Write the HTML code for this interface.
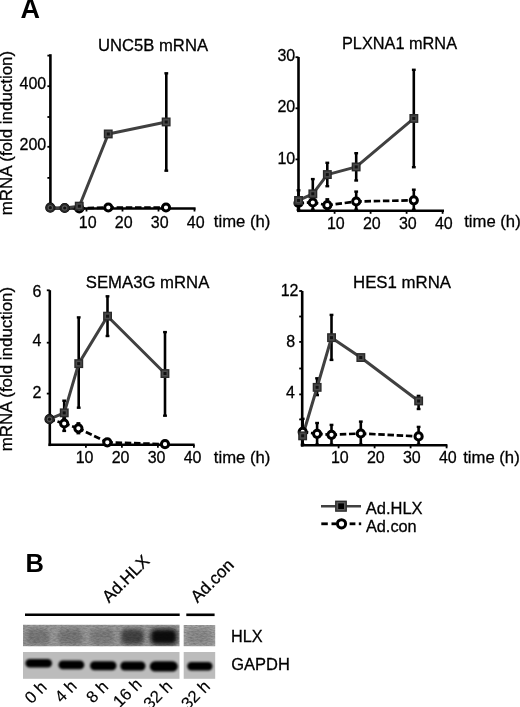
<!DOCTYPE html>
<html><head><meta charset="utf-8"><style>
html,body{margin:0;padding:0;background:#fff;}
svg{display:block;}
text{font-family:"Liberation Sans",sans-serif;fill:#000;stroke:#000;stroke-width:0.28px;}
svg{will-change:transform;}
</style></head><body>
<svg width="520" height="707" viewBox="0 0 520 707">
<rect width="520" height="707" fill="#fff"/>
<text x="20.4" y="17.9" font-size="27" font-weight="bold" style="stroke-width:0">A</text>
<text transform="translate(12.1,215.2) rotate(-90)" font-size="16.5" textLength="164.3" lengthAdjust="spacingAndGlyphs">mRNA (fold induction)</text>
<text transform="translate(12.1,451.2) rotate(-90)" font-size="16.5" textLength="164.3" lengthAdjust="spacingAndGlyphs">mRNA (fold induction)</text>
<line x1="50.4" y1="54.2" x2="50.4" y2="209.8" stroke="#000" stroke-width="2.6"/>
<line x1="49.1" y1="208.5" x2="195.6" y2="208.5" stroke="#000" stroke-width="2.6"/>
<line x1="47.4" y1="55.6" x2="50.4" y2="55.6" stroke="#000" stroke-width="1.8"/>
<line x1="47.4" y1="86.2" x2="50.4" y2="86.2" stroke="#000" stroke-width="1.8"/>
<line x1="47.4" y1="117" x2="50.4" y2="117" stroke="#000" stroke-width="1.8"/>
<line x1="47.4" y1="146.8" x2="50.4" y2="146.8" stroke="#000" stroke-width="1.8"/>
<line x1="47.4" y1="177.9" x2="50.4" y2="177.9" stroke="#000" stroke-width="1.8"/>
<line x1="86.5" y1="208.5" x2="86.5" y2="211.5" stroke="#000" stroke-width="1.8"/>
<line x1="122.5" y1="208.5" x2="122.5" y2="211.5" stroke="#000" stroke-width="1.8"/>
<line x1="158.5" y1="208.5" x2="158.5" y2="211.5" stroke="#000" stroke-width="1.8"/>
<line x1="194.5" y1="208.5" x2="194.5" y2="211.5" stroke="#000" stroke-width="1.8"/>
<text x="46.2" y="88.9" font-size="16" text-anchor="end">400</text>
<text x="46.2" y="150.3" font-size="16" text-anchor="end">200</text>
<text x="87.7" y="227.8" font-size="16" text-anchor="middle">10</text>
<text x="123.7" y="227.8" font-size="16" text-anchor="middle">20</text>
<text x="159.7" y="227.8" font-size="16" text-anchor="middle">30</text>
<text x="195.7" y="227.8" font-size="16" text-anchor="middle">40</text>
<text x="213.8" y="227.2" font-size="16" text-anchor="start" textLength="56.5" lengthAdjust="spacingAndGlyphs">time (h)</text>
<text x="98.0" y="50.7" font-size="16" text-anchor="start" textLength="110" lengthAdjust="spacingAndGlyphs">UNC5B mRNA</text>
<line x1="166.3" y1="73" x2="166.3" y2="171" stroke="#000" stroke-width="2.6"/><line x1="164.4" y1="73.3" x2="168.20000000000002" y2="73.3" stroke="#000" stroke-width="2.4"/><line x1="164.4" y1="170.7" x2="168.20000000000002" y2="170.7" stroke="#000" stroke-width="2.4"/>
<line x1="50.3" y1="207.7" x2="64.7" y2="208" stroke="#000" stroke-width="2.7" stroke-dasharray="6.5,2.7" stroke-dashoffset="0.9"/>
<line x1="64.7" y1="208" x2="79.3" y2="208.4" stroke="#000" stroke-width="2.7" stroke-dasharray="6.5,2.7" stroke-dashoffset="0.9"/>
<line x1="79.3" y1="208.4" x2="108.3" y2="207.5" stroke="#000" stroke-width="2.7" stroke-dasharray="6.5,2.7" stroke-dashoffset="0.9"/>
<line x1="108.3" y1="207.5" x2="166" y2="207.5" stroke="#000" stroke-width="2.7" stroke-dasharray="6.5,2.7" stroke-dashoffset="0.9"/>
<polyline points="50.3,207.7 64.7,208 79.3,206.2 108.3,134 166.2,122" fill="none" stroke="#404040" stroke-width="3.0" stroke-linejoin="round"/>
<circle cx="50.3" cy="207.7" r="3.6" fill="#fff" stroke="#000" stroke-width="3"/>
<circle cx="64.7" cy="208" r="3.6" fill="#fff" stroke="#000" stroke-width="3"/>
<circle cx="79.3" cy="208.4" r="3.6" fill="#fff" stroke="#000" stroke-width="3"/>
<circle cx="108.3" cy="207.5" r="3.6" fill="#fff" stroke="#000" stroke-width="3"/>
<circle cx="166" cy="207.5" r="3.6" fill="#fff" stroke="#000" stroke-width="3"/>
<circle cx="50.3" cy="207.7" r="3.7" fill="#555" stroke="#262626" stroke-width="1.9"/><circle cx="50.3" cy="207.7" r="1.6" fill="#111"/>
<circle cx="64.7" cy="208" r="3.7" fill="#555" stroke="#262626" stroke-width="1.9"/><circle cx="64.7" cy="208" r="1.6" fill="#111"/>
<rect x="75.5" y="202.4" width="7.5" height="7.5" fill="#4a4a4a" stroke="#2a2a2a" stroke-width="1.4"/><rect x="77.8" y="204.7" width="3" height="3" fill="#111"/>
<rect x="104.5" y="130.2" width="7.5" height="7.5" fill="#4a4a4a" stroke="#2a2a2a" stroke-width="1.4"/><rect x="106.8" y="132.5" width="3" height="3" fill="#111"/>
<rect x="162.4" y="118.2" width="7.5" height="7.5" fill="#4a4a4a" stroke="#2a2a2a" stroke-width="1.4"/><rect x="164.7" y="120.5" width="3" height="3" fill="#111"/>
<line x1="298.5" y1="57" x2="298.5" y2="212.10000000000002" stroke="#000" stroke-width="2.6"/>
<line x1="297.2" y1="210.8" x2="444" y2="210.8" stroke="#000" stroke-width="2.6"/>
<line x1="295.5" y1="57.2" x2="298.5" y2="57.2" stroke="#000" stroke-width="1.8"/>
<line x1="295.5" y1="108.3" x2="298.5" y2="108.3" stroke="#000" stroke-width="1.8"/>
<line x1="295.5" y1="159.4" x2="298.5" y2="159.4" stroke="#000" stroke-width="1.8"/>
<line x1="334.6" y1="210.8" x2="334.6" y2="213.8" stroke="#000" stroke-width="1.8"/>
<line x1="370.6" y1="210.8" x2="370.6" y2="213.8" stroke="#000" stroke-width="1.8"/>
<line x1="406.6" y1="210.8" x2="406.6" y2="213.8" stroke="#000" stroke-width="1.8"/>
<line x1="442.6" y1="210.8" x2="442.6" y2="213.8" stroke="#000" stroke-width="1.8"/>
<text x="295.2" y="60.8" font-size="16" text-anchor="end">30</text>
<text x="295.2" y="112.2" font-size="16" text-anchor="end">20</text>
<text x="295.2" y="163.5" font-size="16" text-anchor="end">10</text>
<text x="335.8" y="228.5" font-size="16" text-anchor="middle">10</text>
<text x="371.8" y="228.5" font-size="16" text-anchor="middle">20</text>
<text x="407.8" y="228.5" font-size="16" text-anchor="middle">30</text>
<text x="443.8" y="228.5" font-size="16" text-anchor="middle">40</text>
<text x="464.2" y="227.4" font-size="16" text-anchor="start" textLength="56.5" lengthAdjust="spacingAndGlyphs">time (h)</text>
<text x="342" y="48.9" font-size="16" text-anchor="start" textLength="115" lengthAdjust="spacingAndGlyphs">PLXNA1 mRNA</text>
<line x1="312.8" y1="197" x2="312.8" y2="210" stroke="#000" stroke-width="2.6"/><line x1="310.90000000000003" y1="197.3" x2="314.7" y2="197.3" stroke="#000" stroke-width="2.4"/><line x1="310.90000000000003" y1="209.7" x2="314.7" y2="209.7" stroke="#000" stroke-width="2.4"/>
<line x1="327.3" y1="199" x2="327.3" y2="210" stroke="#000" stroke-width="2.6"/><line x1="325.40000000000003" y1="199.3" x2="329.2" y2="199.3" stroke="#000" stroke-width="2.4"/><line x1="325.40000000000003" y1="209.7" x2="329.2" y2="209.7" stroke="#000" stroke-width="2.4"/>
<line x1="356.2" y1="191.3" x2="356.2" y2="210" stroke="#000" stroke-width="2.6"/><line x1="354.3" y1="191.60000000000002" x2="358.09999999999997" y2="191.60000000000002" stroke="#000" stroke-width="2.4"/><line x1="354.3" y1="209.7" x2="358.09999999999997" y2="209.7" stroke="#000" stroke-width="2.4"/>
<line x1="413.8" y1="189.4" x2="413.8" y2="210" stroke="#000" stroke-width="2.6"/><line x1="411.90000000000003" y1="189.70000000000002" x2="415.7" y2="189.70000000000002" stroke="#000" stroke-width="2.4"/><line x1="411.90000000000003" y1="209.7" x2="415.7" y2="209.7" stroke="#000" stroke-width="2.4"/>
<line x1="298.5" y1="190" x2="298.5" y2="210" stroke="#000" stroke-width="2.6"/><line x1="296.6" y1="190.3" x2="300.4" y2="190.3" stroke="#000" stroke-width="2.4"/><line x1="296.6" y1="209.7" x2="300.4" y2="209.7" stroke="#000" stroke-width="2.4"/>
<line x1="312.8" y1="178.8" x2="312.8" y2="205" stroke="#000" stroke-width="2.6"/><line x1="310.90000000000003" y1="179.10000000000002" x2="314.7" y2="179.10000000000002" stroke="#000" stroke-width="2.4"/><line x1="310.90000000000003" y1="204.7" x2="314.7" y2="204.7" stroke="#000" stroke-width="2.4"/>
<line x1="327.3" y1="162.5" x2="327.3" y2="186.5" stroke="#000" stroke-width="2.6"/><line x1="325.40000000000003" y1="162.8" x2="329.2" y2="162.8" stroke="#000" stroke-width="2.4"/><line x1="325.40000000000003" y1="186.2" x2="329.2" y2="186.2" stroke="#000" stroke-width="2.4"/>
<line x1="356.2" y1="152.9" x2="356.2" y2="180.8" stroke="#000" stroke-width="2.6"/><line x1="354.3" y1="153.20000000000002" x2="358.09999999999997" y2="153.20000000000002" stroke="#000" stroke-width="2.4"/><line x1="354.3" y1="180.5" x2="358.09999999999997" y2="180.5" stroke="#000" stroke-width="2.4"/>
<line x1="413.8" y1="69.5" x2="413.8" y2="167.5" stroke="#000" stroke-width="2.6"/><line x1="411.90000000000003" y1="69.8" x2="415.7" y2="69.8" stroke="#000" stroke-width="2.4"/><line x1="411.90000000000003" y1="167.2" x2="415.7" y2="167.2" stroke="#000" stroke-width="2.4"/>
<line x1="298.5" y1="203" x2="312.8" y2="202.5" stroke="#000" stroke-width="2.7" stroke-dasharray="6.5,2.7" stroke-dashoffset="0.9"/>
<line x1="312.8" y1="202.5" x2="327.3" y2="205.2" stroke="#000" stroke-width="2.7" stroke-dasharray="6.5,2.7" stroke-dashoffset="0.9"/>
<line x1="327.3" y1="205.2" x2="356.2" y2="201.5" stroke="#000" stroke-width="2.7" stroke-dasharray="6.5,2.7" stroke-dashoffset="0.9"/>
<line x1="356.2" y1="201.5" x2="413.8" y2="200.3" stroke="#000" stroke-width="2.7" stroke-dasharray="6.5,2.7" stroke-dashoffset="0.9"/>
<polyline points="298.5,200.4 312.8,193.8 327.3,174.6 356.2,166.9 413.8,118.4" fill="none" stroke="#404040" stroke-width="3.0" stroke-linejoin="round"/>
<circle cx="298.5" cy="203" r="3.6" fill="#fff" stroke="#000" stroke-width="3"/>
<circle cx="312.8" cy="202.5" r="3.6" fill="#fff" stroke="#000" stroke-width="3"/>
<circle cx="327.3" cy="205.2" r="3.6" fill="#fff" stroke="#000" stroke-width="3"/>
<circle cx="356.2" cy="201.5" r="3.6" fill="#fff" stroke="#000" stroke-width="3"/>
<circle cx="413.8" cy="200.3" r="3.6" fill="#fff" stroke="#000" stroke-width="3"/>
<rect x="294.8" y="196.7" width="7.5" height="7.5" fill="#4a4a4a" stroke="#2a2a2a" stroke-width="1.4"/><rect x="297.0" y="198.9" width="3" height="3" fill="#111"/>
<rect x="309.1" y="190.1" width="7.5" height="7.5" fill="#4a4a4a" stroke="#2a2a2a" stroke-width="1.4"/><rect x="311.3" y="192.3" width="3" height="3" fill="#111"/>
<rect x="323.6" y="170.8" width="7.5" height="7.5" fill="#4a4a4a" stroke="#2a2a2a" stroke-width="1.4"/><rect x="325.8" y="173.1" width="3" height="3" fill="#111"/>
<rect x="352.4" y="163.2" width="7.5" height="7.5" fill="#4a4a4a" stroke="#2a2a2a" stroke-width="1.4"/><rect x="354.7" y="165.4" width="3" height="3" fill="#111"/>
<rect x="410.1" y="114.7" width="7.5" height="7.5" fill="#4a4a4a" stroke="#2a2a2a" stroke-width="1.4"/><rect x="412.3" y="116.9" width="3" height="3" fill="#111"/>
<line x1="49.8" y1="290.2" x2="49.8" y2="446.1" stroke="#000" stroke-width="2.6"/>
<line x1="48.5" y1="444.8" x2="194.6" y2="444.8" stroke="#000" stroke-width="2.6"/>
<line x1="46.8" y1="290.3" x2="49.8" y2="290.3" stroke="#000" stroke-width="1.8"/>
<line x1="46.8" y1="342.7" x2="49.8" y2="342.7" stroke="#000" stroke-width="1.8"/>
<line x1="46.8" y1="393.6" x2="49.8" y2="393.6" stroke="#000" stroke-width="1.8"/>
<line x1="85.9" y1="444.8" x2="85.9" y2="447.8" stroke="#000" stroke-width="1.8"/>
<line x1="121.9" y1="444.8" x2="121.9" y2="447.8" stroke="#000" stroke-width="1.8"/>
<line x1="157.9" y1="444.8" x2="157.9" y2="447.8" stroke="#000" stroke-width="1.8"/>
<line x1="193.9" y1="444.8" x2="193.9" y2="447.8" stroke="#000" stroke-width="1.8"/>
<text x="41.5" y="297" font-size="16" text-anchor="end">6</text>
<text x="41.5" y="345.8" font-size="16" text-anchor="end">4</text>
<text x="41.5" y="397.6" font-size="16" text-anchor="end">2</text>
<text x="84.60000000000001" y="462.6" font-size="16" text-anchor="middle">10</text>
<text x="120.60000000000001" y="462.6" font-size="16" text-anchor="middle">20</text>
<text x="156.6" y="462.6" font-size="16" text-anchor="middle">30</text>
<text x="192.6" y="462.6" font-size="16" text-anchor="middle">40</text>
<text x="213.8" y="463.2" font-size="16" text-anchor="start" textLength="56.5" lengthAdjust="spacingAndGlyphs">time (h)</text>
<text x="85.8" y="287.5" font-size="16" text-anchor="start" textLength="123.5" lengthAdjust="spacingAndGlyphs">SEMA3G mRNA</text>
<line x1="64.2" y1="418" x2="64.2" y2="431.2" stroke="#000" stroke-width="2.6"/><line x1="62.300000000000004" y1="418.3" x2="66.10000000000001" y2="418.3" stroke="#000" stroke-width="2.4"/><line x1="62.300000000000004" y1="430.9" x2="66.10000000000001" y2="430.9" stroke="#000" stroke-width="2.4"/>
<line x1="78.4" y1="423" x2="78.4" y2="433.5" stroke="#000" stroke-width="2.6"/><line x1="76.5" y1="423.3" x2="80.30000000000001" y2="423.3" stroke="#000" stroke-width="2.4"/><line x1="76.5" y1="433.2" x2="80.30000000000001" y2="433.2" stroke="#000" stroke-width="2.4"/>
<line x1="64.2" y1="400.4" x2="64.2" y2="425" stroke="#000" stroke-width="2.6"/><line x1="62.300000000000004" y1="400.7" x2="66.10000000000001" y2="400.7" stroke="#000" stroke-width="2.4"/><line x1="62.300000000000004" y1="424.7" x2="66.10000000000001" y2="424.7" stroke="#000" stroke-width="2.4"/>
<line x1="78.7" y1="317.1" x2="78.7" y2="408" stroke="#000" stroke-width="2.6"/><line x1="76.8" y1="317.40000000000003" x2="80.60000000000001" y2="317.40000000000003" stroke="#000" stroke-width="2.4"/><line x1="76.8" y1="407.7" x2="80.60000000000001" y2="407.7" stroke="#000" stroke-width="2.4"/>
<line x1="107.5" y1="296" x2="107.5" y2="336.3" stroke="#000" stroke-width="2.6"/><line x1="105.6" y1="296.3" x2="109.4" y2="296.3" stroke="#000" stroke-width="2.4"/><line x1="105.6" y1="336.0" x2="109.4" y2="336.0" stroke="#000" stroke-width="2.4"/>
<line x1="165" y1="331.8" x2="165" y2="416" stroke="#000" stroke-width="2.6"/><line x1="163.1" y1="332.1" x2="166.9" y2="332.1" stroke="#000" stroke-width="2.4"/><line x1="163.1" y1="415.7" x2="166.9" y2="415.7" stroke="#000" stroke-width="2.4"/>
<line x1="49.5" y1="419.2" x2="64.2" y2="423.5" stroke="#000" stroke-width="2.7" stroke-dasharray="6.5,2.7" stroke-dashoffset="0.9"/>
<line x1="64.2" y1="423.5" x2="78.4" y2="428.3" stroke="#000" stroke-width="2.7" stroke-dasharray="6.5,2.7" stroke-dashoffset="0.9"/>
<line x1="78.4" y1="428.3" x2="107.3" y2="442.3" stroke="#000" stroke-width="2.7" stroke-dasharray="6.5,2.7" stroke-dashoffset="0.9"/>
<line x1="107.3" y1="442.3" x2="165" y2="444.2" stroke="#000" stroke-width="2.7" stroke-dasharray="6.5,2.7" stroke-dashoffset="0.9"/>
<polyline points="49.5,419.2 64.2,412.9 78.7,363.6 107.5,316.2 165,373.5" fill="none" stroke="#404040" stroke-width="3.0" stroke-linejoin="round"/>
<circle cx="49.5" cy="419.2" r="3.6" fill="#fff" stroke="#000" stroke-width="3"/>
<circle cx="64.2" cy="423.5" r="3.6" fill="#fff" stroke="#000" stroke-width="3"/>
<circle cx="78.4" cy="428.3" r="3.6" fill="#fff" stroke="#000" stroke-width="3"/>
<circle cx="107.3" cy="442.3" r="3.6" fill="#fff" stroke="#000" stroke-width="3"/>
<circle cx="165" cy="444.2" r="3.6" fill="#fff" stroke="#000" stroke-width="3"/>
<circle cx="49.5" cy="419.2" r="3.7" fill="#555" stroke="#262626" stroke-width="1.9"/><circle cx="49.5" cy="419.2" r="1.6" fill="#111"/>
<rect x="60.5" y="409.1" width="7.5" height="7.5" fill="#4a4a4a" stroke="#2a2a2a" stroke-width="1.4"/><rect x="62.7" y="411.4" width="3" height="3" fill="#111"/>
<rect x="75.0" y="359.9" width="7.5" height="7.5" fill="#4a4a4a" stroke="#2a2a2a" stroke-width="1.4"/><rect x="77.2" y="362.1" width="3" height="3" fill="#111"/>
<rect x="103.8" y="312.4" width="7.5" height="7.5" fill="#4a4a4a" stroke="#2a2a2a" stroke-width="1.4"/><rect x="106.0" y="314.7" width="3" height="3" fill="#111"/>
<rect x="161.2" y="369.8" width="7.5" height="7.5" fill="#4a4a4a" stroke="#2a2a2a" stroke-width="1.4"/><rect x="163.5" y="372.0" width="3" height="3" fill="#111"/>
<line x1="302.2" y1="291" x2="302.2" y2="446.6" stroke="#000" stroke-width="2.6"/>
<line x1="300.9" y1="445.3" x2="447.4" y2="445.3" stroke="#000" stroke-width="2.6"/>
<line x1="299.2" y1="291" x2="302.2" y2="291" stroke="#000" stroke-width="1.8"/>
<line x1="299.2" y1="316.5" x2="302.2" y2="316.5" stroke="#000" stroke-width="1.8"/>
<line x1="299.2" y1="341.9" x2="302.2" y2="341.9" stroke="#000" stroke-width="1.8"/>
<line x1="299.2" y1="368.5" x2="302.2" y2="368.5" stroke="#000" stroke-width="1.8"/>
<line x1="299.2" y1="394.4" x2="302.2" y2="394.4" stroke="#000" stroke-width="1.8"/>
<line x1="299.2" y1="419.4" x2="302.2" y2="419.4" stroke="#000" stroke-width="1.8"/>
<line x1="338.6" y1="445.3" x2="338.6" y2="448.3" stroke="#000" stroke-width="1.8"/>
<line x1="374.6" y1="445.3" x2="374.6" y2="448.3" stroke="#000" stroke-width="1.8"/>
<line x1="410.6" y1="445.3" x2="410.6" y2="448.3" stroke="#000" stroke-width="1.8"/>
<line x1="446.6" y1="445.3" x2="446.6" y2="448.3" stroke="#000" stroke-width="1.8"/>
<text x="298.5" y="296.2" font-size="16" text-anchor="end">12</text>
<text x="295.2" y="347.4" font-size="16" text-anchor="end">8</text>
<text x="294.8" y="397.7" font-size="16" text-anchor="end">4</text>
<text x="339.8" y="463.2" font-size="16" text-anchor="middle">10</text>
<text x="375.8" y="463.2" font-size="16" text-anchor="middle">20</text>
<text x="411.8" y="463.2" font-size="16" text-anchor="middle">30</text>
<text x="447.8" y="463.2" font-size="16" text-anchor="middle">40</text>
<text x="463.2" y="462.5" font-size="16" text-anchor="start" textLength="56.5" lengthAdjust="spacingAndGlyphs">time (h)</text>
<text x="353" y="287.5" font-size="16" text-anchor="start" textLength="98" lengthAdjust="spacingAndGlyphs">HES1 mRNA</text>
<line x1="302.7" y1="418.5" x2="302.7" y2="445" stroke="#000" stroke-width="2.6"/><line x1="300.8" y1="418.8" x2="304.59999999999997" y2="418.8" stroke="#000" stroke-width="2.4"/><line x1="300.8" y1="444.7" x2="304.59999999999997" y2="444.7" stroke="#000" stroke-width="2.4"/>
<line x1="317.1" y1="422.7" x2="317.1" y2="445" stroke="#000" stroke-width="2.6"/><line x1="315.20000000000005" y1="423.0" x2="319.0" y2="423.0" stroke="#000" stroke-width="2.4"/><line x1="315.20000000000005" y1="444.7" x2="319.0" y2="444.7" stroke="#000" stroke-width="2.4"/>
<line x1="331.5" y1="424.6" x2="331.5" y2="445" stroke="#000" stroke-width="2.6"/><line x1="329.6" y1="424.90000000000003" x2="333.4" y2="424.90000000000003" stroke="#000" stroke-width="2.4"/><line x1="329.6" y1="444.7" x2="333.4" y2="444.7" stroke="#000" stroke-width="2.4"/>
<line x1="360.8" y1="421.3" x2="360.8" y2="445" stroke="#000" stroke-width="2.6"/><line x1="358.90000000000003" y1="421.6" x2="362.7" y2="421.6" stroke="#000" stroke-width="2.4"/><line x1="358.90000000000003" y1="444.7" x2="362.7" y2="444.7" stroke="#000" stroke-width="2.4"/>
<line x1="418.6" y1="426.6" x2="418.6" y2="445" stroke="#000" stroke-width="2.6"/><line x1="416.70000000000005" y1="426.90000000000003" x2="420.5" y2="426.90000000000003" stroke="#000" stroke-width="2.4"/><line x1="416.70000000000005" y1="444.7" x2="420.5" y2="444.7" stroke="#000" stroke-width="2.4"/>
<line x1="317.1" y1="378" x2="317.1" y2="395.4" stroke="#000" stroke-width="2.6"/><line x1="315.20000000000005" y1="378.3" x2="319.0" y2="378.3" stroke="#000" stroke-width="2.4"/><line x1="315.20000000000005" y1="395.09999999999997" x2="319.0" y2="395.09999999999997" stroke="#000" stroke-width="2.4"/>
<line x1="331.5" y1="314.6" x2="331.5" y2="360.2" stroke="#000" stroke-width="2.6"/><line x1="329.6" y1="314.90000000000003" x2="333.4" y2="314.90000000000003" stroke="#000" stroke-width="2.4"/><line x1="329.6" y1="359.9" x2="333.4" y2="359.9" stroke="#000" stroke-width="2.4"/>
<line x1="418.6" y1="395.6" x2="418.6" y2="409.3" stroke="#000" stroke-width="2.6"/><line x1="416.70000000000005" y1="395.90000000000003" x2="420.5" y2="395.90000000000003" stroke="#000" stroke-width="2.4"/><line x1="416.70000000000005" y1="409.0" x2="420.5" y2="409.0" stroke="#000" stroke-width="2.4"/>
<line x1="302.7" y1="431.9" x2="317.1" y2="433.8" stroke="#000" stroke-width="2.7" stroke-dasharray="6.5,2.7" stroke-dashoffset="0.9"/>
<line x1="317.1" y1="433.8" x2="331.5" y2="434.8" stroke="#000" stroke-width="2.7" stroke-dasharray="6.5,2.7" stroke-dashoffset="0.9"/>
<line x1="331.5" y1="434.8" x2="360.8" y2="433.5" stroke="#000" stroke-width="2.7" stroke-dasharray="6.5,2.7" stroke-dashoffset="0.9"/>
<line x1="360.8" y1="433.5" x2="418.6" y2="436.4" stroke="#000" stroke-width="2.7" stroke-dasharray="6.5,2.7" stroke-dashoffset="0.9"/>
<polyline points="302.7,435.8 317.1,387.3 331.5,337.7 360.8,357.5 418.6,401" fill="none" stroke="#404040" stroke-width="3.0" stroke-linejoin="round"/>
<circle cx="302.7" cy="431.9" r="3.6" fill="#fff" stroke="#000" stroke-width="3"/>
<circle cx="317.1" cy="433.8" r="3.6" fill="#fff" stroke="#000" stroke-width="3"/>
<circle cx="331.5" cy="434.8" r="3.6" fill="#fff" stroke="#000" stroke-width="3"/>
<circle cx="360.8" cy="433.5" r="3.6" fill="#fff" stroke="#000" stroke-width="3"/>
<circle cx="418.6" cy="436.4" r="3.6" fill="#fff" stroke="#000" stroke-width="3"/>
<rect x="298.9" y="432.1" width="7.5" height="7.5" fill="#4a4a4a" stroke="#2a2a2a" stroke-width="1.4"/><rect x="301.2" y="434.3" width="3" height="3" fill="#111"/>
<rect x="313.4" y="383.6" width="7.5" height="7.5" fill="#4a4a4a" stroke="#2a2a2a" stroke-width="1.4"/><rect x="315.6" y="385.8" width="3" height="3" fill="#111"/>
<rect x="327.8" y="333.9" width="7.5" height="7.5" fill="#4a4a4a" stroke="#2a2a2a" stroke-width="1.4"/><rect x="330.0" y="336.2" width="3" height="3" fill="#111"/>
<rect x="357.1" y="353.8" width="7.5" height="7.5" fill="#4a4a4a" stroke="#2a2a2a" stroke-width="1.4"/><rect x="359.3" y="356.0" width="3" height="3" fill="#111"/>
<rect x="414.9" y="397.2" width="7.5" height="7.5" fill="#4a4a4a" stroke="#2a2a2a" stroke-width="1.4"/><rect x="417.1" y="399.5" width="3" height="3" fill="#111"/>
<line x1="321" y1="506.2" x2="361" y2="506.2" stroke="#404040" stroke-width="2.6"/>
<rect x="335.8" y="501.3" width="10.4" height="9.8" fill="#5a5a5a" stroke="#2e2e2e" stroke-width="1.4"/>
<rect x="338.2" y="503.4" width="5.8" height="5.6" fill="#000"/>
<line x1="321.3" y1="523.8" x2="327.8" y2="523.8" stroke="#000" stroke-width="2.8"/>
<line x1="331.5" y1="523.8" x2="336" y2="523.8" stroke="#000" stroke-width="2.8"/>
<line x1="349.6" y1="523.8" x2="355.4" y2="523.8" stroke="#000" stroke-width="2.8"/>
<line x1="358.8" y1="523.8" x2="361.2" y2="523.8" stroke="#000" stroke-width="2.8"/>
<circle cx="341.5" cy="523.8" r="4.1" fill="#fff" stroke="#000" stroke-width="3"/>
<text x="365.8" y="514.2" font-size="16" text-anchor="start" textLength="56.8" lengthAdjust="spacingAndGlyphs">Ad.HLX</text>
<text x="365.9" y="532.3" font-size="16" text-anchor="start" textLength="50.8" lengthAdjust="spacingAndGlyphs">Ad.con</text>
<text x="25.5" y="572.3" font-size="25.5" font-weight="bold" style="stroke-width:0">B</text>
<line x1="25" y1="614.8" x2="179.7" y2="614.8" stroke="#000" stroke-width="2.6"/>
<line x1="186.3" y1="614.8" x2="214.6" y2="614.8" stroke="#000" stroke-width="2.6"/>
<text transform="translate(109,603.5) rotate(-45)" font-size="17">Ad.HLX</text>
<text transform="translate(197.5,603.5) rotate(-45)" font-size="17">Ad.con</text>
<defs>
<filter id="bl" x="-20%" y="-50%" width="140%" height="200%"><feGaussianBlur stdDeviation="2.3"/></filter>
<filter id="nz" x="0" y="0" width="100%" height="100%"><feTurbulence type="fractalNoise" baseFrequency="0.3 0.8" numOctaves="2" seed="7"/><feColorMatrix type="matrix" values="0 0 0 0 0  0 0 0 0 0  0 0 0 0 0  1.4 0 0 0 -0.45"/></filter>
<filter id="bl2" x="-20%" y="-50%" width="140%" height="200%"><feGaussianBlur stdDeviation="0.8"/></filter>
</defs>
<clipPath id="cp1"><rect x="23" y="624.8" width="156.5" height="21.4"/><rect x="183.7" y="625" width="31.5" height="21.2"/></clipPath>
<rect x="23" y="624.8" width="156.5" height="21.4" fill="#9c9c9c"/>
<rect x="183.7" y="625" width="31.5" height="21.2" fill="#a4a4a4"/>
<g clip-path="url(#cp1)">
<rect x="26.5" y="629" width="23" height="15.5" rx="5" fill="#7c7c7c" filter="url(#bl)"/>
<rect x="58.5" y="629" width="24" height="15.5" rx="5" fill="#7a7a7a" filter="url(#bl)"/>
<rect x="90.5" y="629" width="24" height="15.5" rx="5" fill="#808080" filter="url(#bl)"/>
<rect x="121.0" y="629" width="23.0" height="15.5" rx="5" fill="#454545" filter="url(#bl)"/>
<rect x="150.5" y="629" width="26.5" height="15.5" rx="5" fill="#0a0a0a" filter="url(#bl)"/>
<rect x="187.5" y="629" width="24" height="15.5" rx="5" fill="#8e8e8e" filter="url(#bl)"/>
<rect x="20" y="622" width="200" height="27" fill="#fff" filter="url(#nz)" opacity="0.28"/>
</g>
<rect x="23" y="652" width="156.5" height="26.8" fill="#bcbcbc"/>
<rect x="183.7" y="652" width="31.5" height="26.8" fill="#bcbcbc"/>
<rect x="25.4" y="659.0" width="26.6" height="8.6" rx="4.3" fill="#050505" filter="url(#bl2)"/>
<rect x="58.4" y="660.5" width="25.9" height="8.8" rx="4.4" fill="#050505" filter="url(#bl2)"/>
<rect x="90" y="661.2" width="26.5" height="9" rx="4.5" fill="#050505" filter="url(#bl2)"/>
<rect x="120.3" y="661.5" width="25.2" height="9" rx="4.5" fill="#050505" filter="url(#bl2)"/>
<rect x="149.8" y="661.2" width="28.0" height="10.4" rx="5.2" fill="#050505" filter="url(#bl2)"/>
<rect x="187.2" y="662.1" width="25.3" height="8.4" rx="4.2" fill="#050505" filter="url(#bl2)"/>
<text x="231" y="641.7" font-size="16" text-anchor="start" textLength="31.6" lengthAdjust="spacingAndGlyphs">HLX</text>
<text x="231.2" y="669.6" font-size="16" text-anchor="start" textLength="58.6" lengthAdjust="spacingAndGlyphs">GAPDH</text>
<text transform="translate(31.5,704.5) rotate(-45)" font-size="16.7" style="stroke-width:0.15px">0 h</text>
<text transform="translate(61.5,703.5) rotate(-45)" font-size="16.7" style="stroke-width:0.15px">4 h</text>
<text transform="translate(93,704) rotate(-45)" font-size="16.7" style="stroke-width:0.15px">8 h</text>
<text transform="translate(119.8,708.3) rotate(-45)" font-size="16.7" style="stroke-width:0.15px">16 h</text>
<text transform="translate(150.3,710.3) rotate(-45)" font-size="16.7" style="stroke-width:0.15px">32 h</text>
<text transform="translate(188,710.3) rotate(-45)" font-size="16.7" style="stroke-width:0.15px">32 h</text>
</svg></body></html>
